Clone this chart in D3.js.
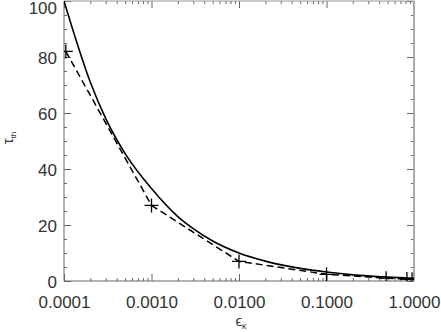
<!DOCTYPE html>
<html>
<head>
<meta charset="utf-8">
<script src="https://cdn.jsdelivr.net/npm/d3@7"></script>
<style>
  body { margin: 0; background: #fff; }
  svg { display: block; }
  text { font-family: "Liberation Sans", Arial, sans-serif; fill: #333; }
</style>
</head>
<body>
<div id="chart"></div>
<script>
// solid curve
var curveEps = [0.0001, 0.0002, 0.0003, 0.0005, 0.001, 0.002, 0.003, 0.005, 0.01, 0.02, 0.05, 0.1, 0.2, 0.5, 1.0];
var curveTau = [100, 71, 58, 45.5, 33, 23, 18.7, 14.3, 10, 7.1, 4.5, 3.2, 2.2, 1.4, 1.0];

// dashed line with plus markers
var pointEps = [0.000105, 0.001, 0.01, 0.1, 0.48, 0.83, 0.95];
var pointTau = [82, 27, 7, 2.4, 1.0, 0.7, 0.6];

var xTicks = [0.0001, 0.001, 0.01, 0.1, 1];
var xTickLabels = ["0.0001", "0.0010", "0.0100", "0.1000", "1.0000"];
var yTicks = [0, 20, 40, 60, 80, 100];

var width = 441, height = 332;
var margin = { left: 64, right: 27, top: 1, bottom: 51 };
var w = width - margin.left - margin.right,
    h = height - margin.top - margin.bottom;

var svg = d3.select("#chart").append("svg")
    .attr("width", width)
    .attr("height", height);

var g = svg.append("g")
    .attr("transform", "translate(" + margin.left + "," + margin.top + ")");

var x = d3.scaleLog().domain([0.0001, 1]).range([0, w]);
var y = d3.scaleLinear().domain([0, 100]).range([h, 0]);

g.append("clipPath").attr("id", "clip")
  .append("rect").attr("width", w).attr("height", h);

// minor ticks
var xMinor = [];
[0.0001, 0.001, 0.01, 0.1].forEach(function(d) {
    for (var k = 2; k <= 9; k++) xMinor.push(d * k);
});
var yMinor = d3.range(0, 101, 5).filter(function(d) { return d % 20 != 0; });

var axisColor = "#666";

function drawAxis(axis, transform) {
    var a = g.append("g").attr("transform", transform).call(axis);
    a.select(".domain").remove();
    a.selectAll("line").attr("stroke", axisColor);
    a.selectAll("text").style("font-size", "17px").attr("fill", "#333");
    return a;
}

// bottom
drawAxis(d3.axisTop(x).tickValues(xTicks).tickSize(7).tickFormat(function(d, i) { return xTickLabels[i]; }), "translate(0," + h + ")")
    .selectAll("text").attr("y", 0).attr("dy", "1.6em");
drawAxis(d3.axisTop(x).tickValues(xMinor).tickSize(3).tickFormat(""), "translate(0," + h + ")");
// top
drawAxis(d3.axisBottom(x).tickValues(xTicks).tickSize(7).tickFormat(""), "translate(0,0)");
drawAxis(d3.axisBottom(x).tickValues(xMinor).tickSize(3).tickFormat(""), "translate(0,0)");
// left
drawAxis(d3.axisRight(y).tickValues(yTicks).tickSize(7).tickFormat(d3.format("d")), "translate(0,0)")
    .selectAll("text").attr("x", -7).attr("text-anchor", "end")
    .attr("y", function(d) { return d == 100 ? 7 : 1; });
drawAxis(d3.axisRight(y).tickValues(yMinor).tickSize(3).tickFormat(""), "translate(0,0)");
// right
drawAxis(d3.axisLeft(y).tickValues(yTicks).tickSize(7).tickFormat(""), "translate(" + w + ",0)");
drawAxis(d3.axisLeft(y).tickValues(yMinor).tickSize(3).tickFormat(""), "translate(" + w + ",0)");

// frame
g.append("line").attr("x1", 0).attr("x2", 0).attr("y1", 0).attr("y2", h).attr("stroke", axisColor);
g.append("line").attr("x1", 0).attr("x2", w).attr("y1", h).attr("y2", h).attr("stroke", axisColor);
g.append("line").attr("x1", 0).attr("x2", w).attr("y1", 0).attr("y2", 0).attr("stroke", "#999");
g.append("line").attr("x1", w).attr("x2", w).attr("y1", 0).attr("y2", h).attr("stroke", "#aaa").attr("stroke-width", 2);

var plot = g.append("g").attr("clip-path", "url(#clip)");

var solid = curveEps.map(function(e, i) { return [e, curveTau[i]]; });
var pts = pointEps.map(function(e, i) { return [e, pointTau[i]]; });

var line = d3.line()
    .x(function(d) { return x(d[0]); })
    .y(function(d) { return y(d[1]); });

plot.append("path")
    .datum(solid)
    .attr("d", line.curve(d3.curveMonotoneX))
    .attr("fill", "none")
    .attr("stroke", "#000")
    .attr("stroke-width", 1.6);

plot.append("path")
    .datum(pts)
    .attr("d", d3.line().x(function(d) { return x(d[0]); }).y(function(d) { return y(d[1]); }))
    .attr("fill", "none")
    .attr("stroke", "#000")
    .attr("stroke-width", 1.5)
    .attr("stroke-dasharray", "7,4");

plot.selectAll(".mark")
    .data(pts)
    .enter().append("path")
    .attr("class", "mark")
    .attr("transform", function(d) { return "translate(" + x(d[0]) + "," + y(d[1]) + ")"; })
    .attr("d", "M-7,0H7M0,-7V7")
    .attr("stroke", "#000")
    .attr("stroke-width", 1.3)
    .attr("fill", "none");

// axis titles
var xl = svg.append("text")
    .attr("x", margin.left + w / 2 + 2)
    .attr("y", 326)
    .attr("text-anchor", "middle")
    .style("font-size", "15px")
    .attr("fill", "#222");
xl.append("tspan").text("\u03f5");
xl.append("tspan").attr("dy", 3).style("font-size", "9px").text("\u03ba");

var yl = svg.append("text")
    .attr("transform", "translate(13," + 138 + ") rotate(-90)")
    .attr("text-anchor", "middle")
    .style("font-size", "15px")
    .attr("fill", "#222");
yl.append("tspan").text("\u03c4");
yl.append("tspan").attr("dy", 3).style("font-size", "8px").text("th");
</script>
</body>
</html>
